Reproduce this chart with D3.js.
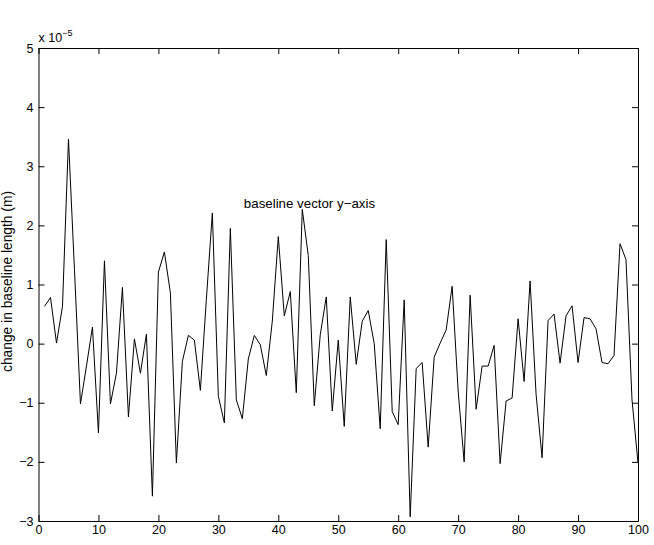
<!DOCTYPE html>
<html lang="en">
<head>
<meta charset="UTF-8">
<title>baseline vector y-axis</title>
<script src="https://d3js.org/d3.v7.min.js"></script>
<style>
  body { margin: 0; background: #fff; }
  text { font-family: "Liberation Sans", Arial, Helvetica, sans-serif; }
</style>
</head>
<body>
<svg id="main" width="654" height="545"></svg>
<script>
    // change in baseline length, units of 1e-5 m, epochs 1..100
    const changeVals = [
        0.63, 0.78, 0.01, 0.63, 3.46, 1.25, -1.02, -0.38, 0.28, -1.51,
        1.40, -1.02, -0.50, 0.95, -1.24, 0.08, -0.50, 0.16, -2.58, 1.21,
        1.55, 0.86, -2.02, -0.30, 0.14, 0.06, -0.79, 0.75, 2.21, -0.89,
        -1.34, 1.95, -0.95, -1.27, -0.26, 0.14, -0.02, -0.54, 0.38, 1.81,
        0.47, 0.88, -0.83, 2.27, 1.49, -1.05, 0.15, 0.79, -1.14, 0.06,
        -1.40, 0.79, -0.35, 0.38, 0.56, 0.00, -1.44, 1.76, -1.15, -1.37,
        0.74, -2.93, -0.42, -0.32, -1.75, -0.23, 0.01, 0.23, 0.97, -0.80,
        -2.00, 0.82, -1.11, -0.38, -0.38, -0.03, -2.03, -0.97, -0.92, 0.42,
        -0.64, 1.06, -0.86, -1.93, 0.39, 0.50, -0.33, 0.47, 0.64, -0.32,
        0.44, 0.42, 0.25, -0.32, -0.34, -0.20, 1.69, 1.42, -0.95, -2.02
    ];
    const xTicks = [0, 10, 20, 30, 40, 50, 60, 70, 80, 90, 100];
    const yTicks = [-3, -2, -1, 0, 1, 2, 3, 4, 5];
    const titleText = "baseline vector y\u2212axis";
    const yLabel = "change in baseline length (m)";

    const margin = {left: 38.5, right: 16, top: 48, bottom: 24};
    const W = 654, H = 545;
    const svg = d3.select('svg#main');

    let x = d3.scaleLinear().domain([0, 100]).range([margin.left, W - margin.right]);
    let y = d3.scaleLinear().domain([-3, 5]).range([H - margin.bottom, margin.top]);

    const fmt = d => String(d).replace('-', '\u2212');

    // axes, ticks pointing inward (matlab style)
    let axBottom = svg.append('g')
        .attr('transform', `translate(0,${y(-3)})`)
        .call(d3.axisBottom(x).tickValues(xTicks).tickSizeInner(-6).tickSizeOuter(0).tickPadding(4).tickFormat(fmt));
    let axTop = svg.append('g')
        .attr('transform', `translate(0,${y(5)})`)
        .call(d3.axisTop(x).tickValues(xTicks).tickSizeInner(-6).tickSizeOuter(0).tickFormat(''));
    let axLeft = svg.append('g')
        .attr('transform', `translate(${x(0)},0)`)
        .call(d3.axisLeft(y).tickValues(yTicks).tickSizeInner(-6).tickSizeOuter(0).tickPadding(5).tickFormat(fmt));
    let axRight = svg.append('g')
        .attr('transform', `translate(${x(100)},0)`)
        .call(d3.axisRight(y).tickValues(yTicks).tickSizeInner(-6).tickSizeOuter(0).tickFormat(''));

    svg.selectAll('.domain').attr('stroke', '#000').attr('stroke-width', 1);
    svg.selectAll('.tick line').attr('stroke', '#000');
    svg.selectAll('.tick text').attr('font-size', 12.5).attr('fill', '#000')
        .style('font-family', '"Liberation Sans", Arial, sans-serif');

    // the series
    let line = d3.line()
        .x((d, i) => x(i + 1))
        .y(d => y(d));

    svg.append('path')
        .datum(changeVals)
        .attr('d', line)
        .attr('fill', 'none')
        .attr('stroke', '#000')
        .attr('stroke-width', 1);

    // title inside the axes
    svg.append('text')
        .attr('x', x(45.2))
        .attr('y', y(2.3))
        .attr('text-anchor', 'middle')
        .attr('font-size', 13.3)
        .text(titleText);

    // y label
    svg.append('text')
        .attr('transform', `translate(12,${(y(5) + y(-3)) / 2 - 3}) rotate(-90)`)
        .attr('text-anchor', 'middle')
        .attr('font-size', 13.8)
        .text(yLabel);

    // exponent
    let ex = svg.append('text')
        .attr('x', x(0))
        .attr('y', 42)
        .attr('font-size', 12.5)
        .text('x 10');
    ex.append('tspan')
        .attr('dy', -6)
        .attr('font-size', 9)
        .text('\u22125');
</script>
</body>
</html>
